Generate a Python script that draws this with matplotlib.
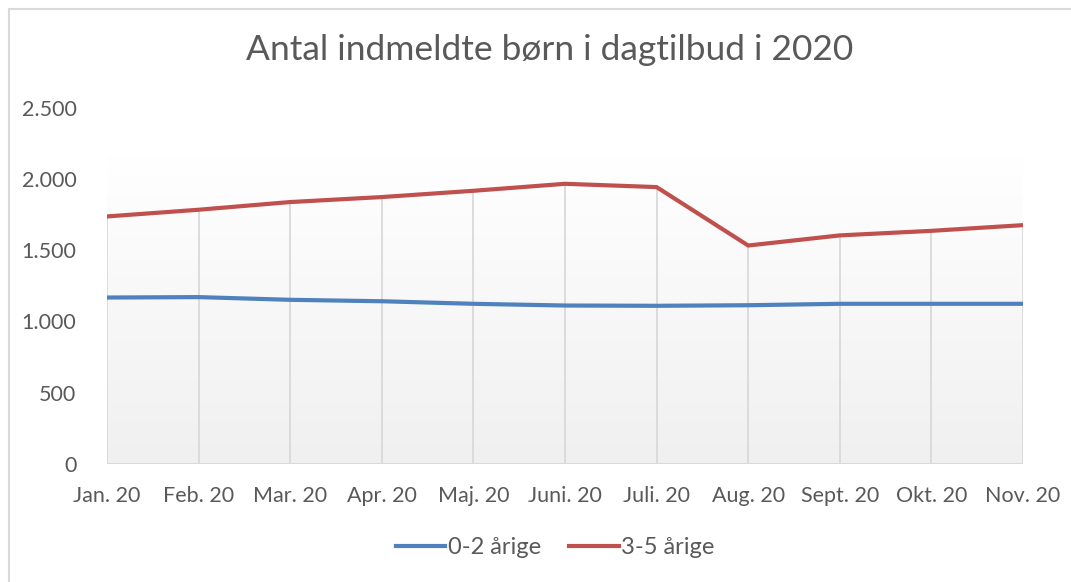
import numpy as np
import matplotlib
matplotlib.use("Agg")
import matplotlib.pyplot as plt
from matplotlib.patches import Rectangle
from matplotlib.lines import Line2D

months = ["Jan. 20", "Feb. 20", "Mar. 20", "Apr. 20", "Maj. 20", "Juni. 20",
          "Juli. 20", "Aug. 20", "Sept. 20", "Okt. 20", "Nov. 20"]
age_0_2 = [1168, 1171, 1152, 1142, 1124, 1112, 1110, 1114, 1124, 1124, 1124]
age_3_5 = [1737, 1784, 1838, 1873, 1917, 1966, 1943, 1533, 1604, 1636, 1676]
yticks = [0, 500, 1000, 1500, 2000, 2500]
ytick_labels = ["0", "500", "1.000", "1.500", "2.000", "2.500"]
title = "Antal indmeldte børn i dagtilbud i 2020"
labels = ["0-2 årige", "3-5 årige"]

plt.rcParams['font.family'] = ['Lato', 'DejaVu Sans']
txt = "#595959"
blue = "#4f81bd"
red = "#c0504d"
grid = "#d9d9d9"

W, H = 1071, 582
fig = plt.figure(figsize=(W / 100, H / 100), dpi=100)
fig.patch.set_facecolor("white")

# outer chart border
fig.add_artist(Rectangle((9 / W, -0.05), 1.2, 1 - 9 / H + 0.05, transform=fig.transFigure,
                         fill=False, edgecolor="#d9d9d9", linewidth=1.5))

left, right = 107 / W, 1023 / W
bottom, top = 1 - 464 / H, 1 - 107.7 / H
ax = fig.add_axes([left, bottom, right - left, top - bottom])
x = np.arange(len(months))
ax.set_xlim(0, len(months) - 1)
ax.set_ylim(0, 2500)

# gradient background
grad = np.linspace(0, 1, 256).reshape(-1, 1)
cmap = matplotlib.colors.LinearSegmentedColormap.from_list("g", ["#f0f0f0", "#ffffff"])
ax.imshow(grad, extent=(0, len(months) - 1, 0, 2170), origin="lower", aspect="auto",
          cmap=cmap, zorder=0, interpolation="bilinear")

# drop lines
for xi, v in zip(x, age_3_5):
    ax.plot([xi, xi], [0, v], color=grid, linewidth=1.3, zorder=1, solid_capstyle="butt")
ax.axhline(0, color=grid, linewidth=1.5, zorder=1)

ax.plot(x, age_0_2, color=blue, linewidth=3, zorder=3, solid_capstyle="round", label=labels[0])
ax.plot(x, age_3_5, color=red, linewidth=3, zorder=3, solid_capstyle="round", label=labels[1])

for s in ax.spines.values():
    s.set_visible(False)
ax.set_yticks(yticks)
ax.set_yticklabels(ytick_labels)
ax.set_xticks(x)
ax.set_xticklabels(months)
ax.tick_params(axis="both", length=0, colors=txt, labelsize=15.5)
ax.tick_params(axis="y", pad=22)
ax.tick_params(axis="x", pad=16)
for lab in ax.get_yticklabels():
    lab.set_horizontalalignment("right")

fig.text(550 / W, 1 - 50 / H, title, ha="center", va="center", fontsize=25.5, color=txt)

handles = [Line2D([], [], color=blue, linewidth=3), Line2D([], [], color=red, linewidth=3)]
fig.legend(handles, labels, loc="center", bbox_to_anchor=(555 / W, 1 - 548 / H), ncol=2,
           frameon=False, fontsize=17, labelcolor=txt, handlelength=2.1, handletextpad=0.1,
           columnspacing=1.2)

fig.savefig("out.png", dpi=100, facecolor="white")
